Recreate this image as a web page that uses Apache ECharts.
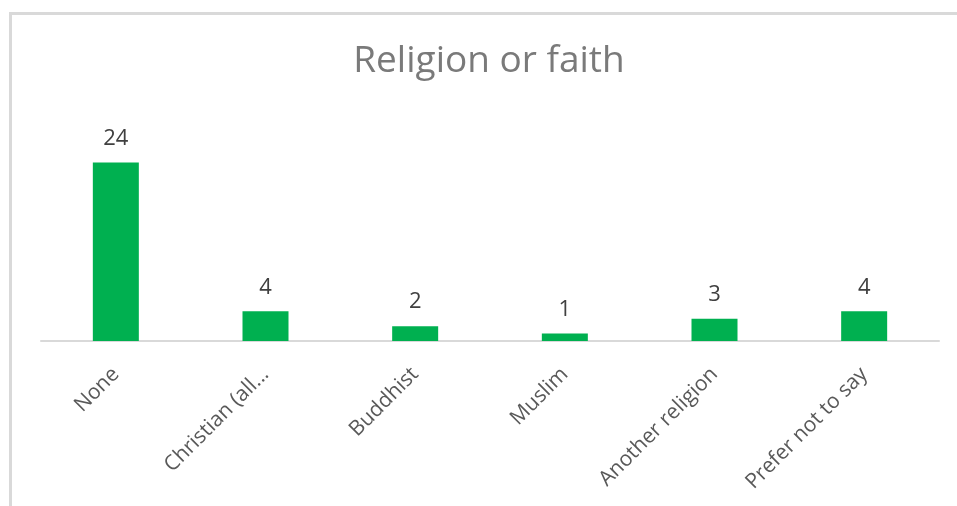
<!DOCTYPE html>
<html>
<head>
<meta charset="utf-8">
<script src="https://cdn.jsdelivr.net/npm/echarts@6/dist/echarts.min.js"></script>
<style>
html,body{margin:0;padding:0;background:#fff;}
#chart{width:957px;height:506px;}
</style>
</head>
<body>
<div id="chart"></div>
<script>
const titleText = "Religion or faith";
const categories = ["None", "Christian (all...", "Buddhist", "Muslim", "Another religion", "Prefer not to say"];
const values = [24, 4, 2, 1, 3, 4];
const yMin = 0;
const yMax = 30;

const chart = echarts.init(document.getElementById('chart'), null, {renderer: 'canvas'});
const FONT = '"Open Sans", "Noto Sans", sans-serif';
chart.setOption({
  animation: false,
  backgroundColor: '#ffffff',
  graphic: [
    {
      type: 'rect',
      shape: {x: 10.5, y: 13.5, width: 1000, height: 600},
      style: {fill: 'none', stroke: '#d9d9d9', lineWidth: 3},
      silent: true
    },
    {
      type: 'text',
      x: 489, y: 43,
      style: {
        text: titleText,
        font: '37px ' + FONT,
        fill: '#7a7a7a',
        textAlign: 'center',
        textVerticalAlign: 'top'
      }
    }
  ],
  grid: {left: 41, right: 18, top: 118, bottom: 165, containLabel: false},
  xAxis: {
    type: 'category',
    data: categories,
    axisLine: {show: true, lineStyle: {color: '#d9d9d9', width: 2}},
    axisTick: {show: false},
    axisLabel: {
      rotate: 45,
      interval: 0,
      margin: 30,
      color: '#595959',
      fontSize: 21,
      fontFamily: FONT
    }
  },
  yAxis: {
    type: 'value',
    min: yMin,
    max: yMax,
    show: false,
    splitLine: {show: false}
  },
  series: [{
    type: 'bar',
    data: values,
    barWidth: 46,
    itemStyle: {color: '#00b050'},
    label: {
      show: true,
      position: 'top',
      distance: 13,
      color: '#404040',
      fontSize: 22,
      fontFamily: FONT
    }
  }]
});
</script>
</body>
</html>
